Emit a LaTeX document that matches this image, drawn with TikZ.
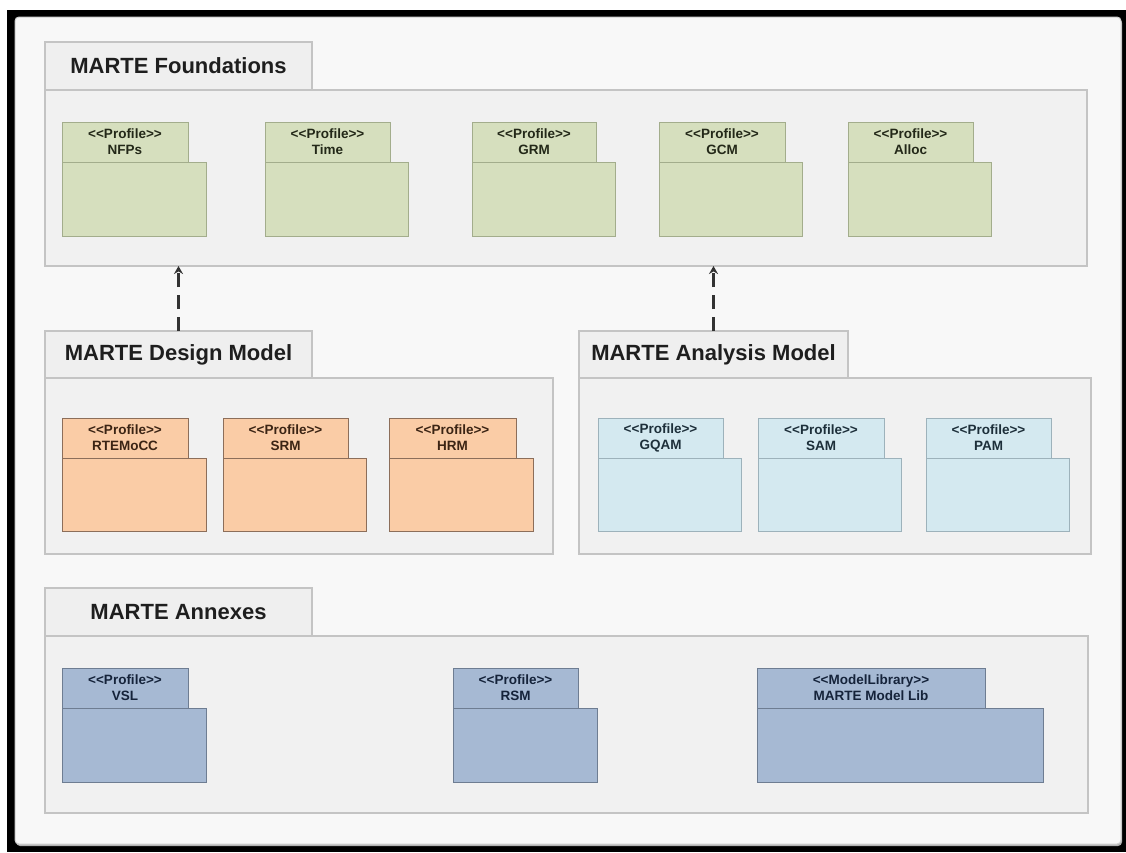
\documentclass[tikz,border=0pt]{standalone}
\usepackage{fontspec}
\setmainfont{Liberation Sans}
\usetikzlibrary{arrows.meta,shadows}
\definecolor{panelbg}{HTML}{F8F8F8}
\definecolor{panelline}{HTML}{D0D0D0}
\definecolor{pkgbg}{HTML}{F1F1F1}
\definecolor{tabbg}{HTML}{EFEFEF}
\definecolor{pkgline}{HTML}{C4C4C4}
\definecolor{headtext}{HTML}{1E1E1E}
\definecolor{grfill}{HTML}{D6DFBE}
\definecolor{grline}{HTML}{A3AD8C}
\definecolor{grtext}{HTML}{232818}
\definecolor{orfill}{HTML}{FACCA6}
\definecolor{orline}{HTML}{8C6E5A}
\definecolor{ortext}{HTML}{3B2414}
\definecolor{ltfill}{HTML}{D4E9F0}
\definecolor{ltline}{HTML}{9DB2BB}
\definecolor{lttext}{HTML}{1D2F3A}
\definecolor{blfill}{HTML}{A6B9D3}
\definecolor{blline}{HTML}{6E7D92}
\definecolor{bltext}{HTML}{15233A}
\definecolor{arrowc}{HTML}{333333}
\newcommand\stereo[1]{<\kern0pt<\kern0pt#1\kern0pt>\kern0pt>}
\newcommand\mkbox[7]{\node[#1,anchor=north west,minimum width={(#5-#3)*1pt},minimum height={(#6-#4)*1pt}] (#2) at (#3,#4) {#7};}
\newcommand\mkprof[9]{%
  \mkbox{#1}{#2}{#3}{#6}{#7}{#8}{}
  \mkbox{#1,proftext}{#2-tab}{#3}{#4}{#5}{#6}{#9}}
\begin{document}
\begin{tikzpicture}[x=1pt,y=-1pt,
  every node/.style={inner sep=0pt,outer sep=0pt,rectangle},
  frame/.style={fill=black},
  panel/.style={fill=panelbg,draw=panelline,line width=1pt,rounded corners=4pt,
    drop shadow={shadow xshift=1pt,shadow yshift=-2pt,fill=gray!60,opacity=1}},
  pkgbody/.style={fill=pkgbg,draw=pkgline,line width=1.2pt},
  pkgtab/.style={fill=tabbg,draw=pkgline,line width=1.2pt,
    font=\fontsize{22}{26}\selectfont\bfseries,text=headtext},
  grprof/.style={fill=grfill,draw=grline,line width=1pt,text=grtext},
  orprof/.style={fill=orfill,draw=orline,line width=1pt,text=ortext},
  ltprof/.style={fill=ltfill,draw=ltline,line width=1pt,text=lttext},
  blprof/.style={fill=blfill,draw=blline,line width=1pt,text=bltext},
  proftext/.style={font=\fontsize{13.5}{16}\selectfont\bfseries,align=center},
  dep/.style={draw=arrowc,line width=2.4pt,dash pattern=on 14pt off 8pt,
    -{Stealth[length=8pt,width=9pt]}}]
\useasboundingbox (0,0) rectangle (1126,852);
\mkbox{frame}{frame}{7}{10}{1126}{852}{}
\mkbox{panel}{panel}{15}{17}{1121}{844}{}
% Foundations
\mkbox{pkgbody}{found}{45}{90}{1087}{266}{}
\mkbox{pkgtab}{found-tab}{45}{42}{312}{90}{MARTE Foundations}
\mkprof{grprof}{nfps}{62}{122}{188}{162}{206}{236}{\stereo{Profile}\\NFPs}
\mkprof{grprof}{time}{265}{122}{390}{162}{408}{236}{\stereo{Profile}\\Time}
\mkprof{grprof}{grm}{472}{122}{596}{162}{615}{236}{\stereo{Profile}\\GRM}
\mkprof{grprof}{gcm}{659}{122}{785}{162}{802}{236}{\stereo{Profile}\\GCM}
\mkprof{grprof}{alloc}{848}{122}{973}{162}{991}{236}{\stereo{Profile}\\Alloc}
% Design
\mkbox{pkgbody}{design}{45}{378}{553}{554}{}
\mkbox{pkgtab}{design-tab}{45}{331}{312}{378}{MARTE Design Model}
\mkprof{orprof}{rtemocc}{62}{418}{188}{458}{206}{531}{\stereo{Profile}\\RTEMoCC}
\mkprof{orprof}{srm}{223}{418}{348}{458}{366}{531}{\stereo{Profile}\\SRM}
\mkprof{orprof}{hrm}{389}{418}{516}{458}{533}{531}{\stereo{Profile}\\HRM}
% Analysis
\mkbox{pkgbody}{analysis}{579}{378}{1091}{554}{}
\mkbox{pkgtab}{analysis-tab}{579}{331}{848}{378}{MARTE Analysis Model}
\mkprof{ltprof}{gqam}{598}{418}{723}{458}{741}{531}{\stereo{Profile}\\GQAM}
\mkprof{ltprof}{sam}{758}{418}{884}{458}{901}{531}{\stereo{Profile}\\SAM}
\mkprof{ltprof}{pam}{926}{418}{1051}{458}{1069}{531}{\stereo{Profile}\\PAM}
% Annexes
\mkbox{pkgbody}{annex}{45}{636}{1088}{813}{}
\mkbox{pkgtab}{annex-tab}{45}{588}{312}{636}{MARTE Annexes}
\mkprof{blprof}{vsl}{62}{668}{188}{708}{206}{782}{\stereo{Profile}\\VSL}
\mkprof{blprof}{rsm}{453}{668}{578}{708}{597}{782}{\stereo{Profile}\\RSM}
\mkprof{blprof}{mlib}{757}{668}{985}{708}{1043}{782}{\stereo{ModelLibrary}\\MARTE Model Lib}
% dependencies
\draw[dep] (design-tab.north) -- (design-tab.north |- found.south);
\draw[dep] (analysis-tab.north) -- (analysis-tab.north |- found.south);
\end{tikzpicture}
\end{document}
